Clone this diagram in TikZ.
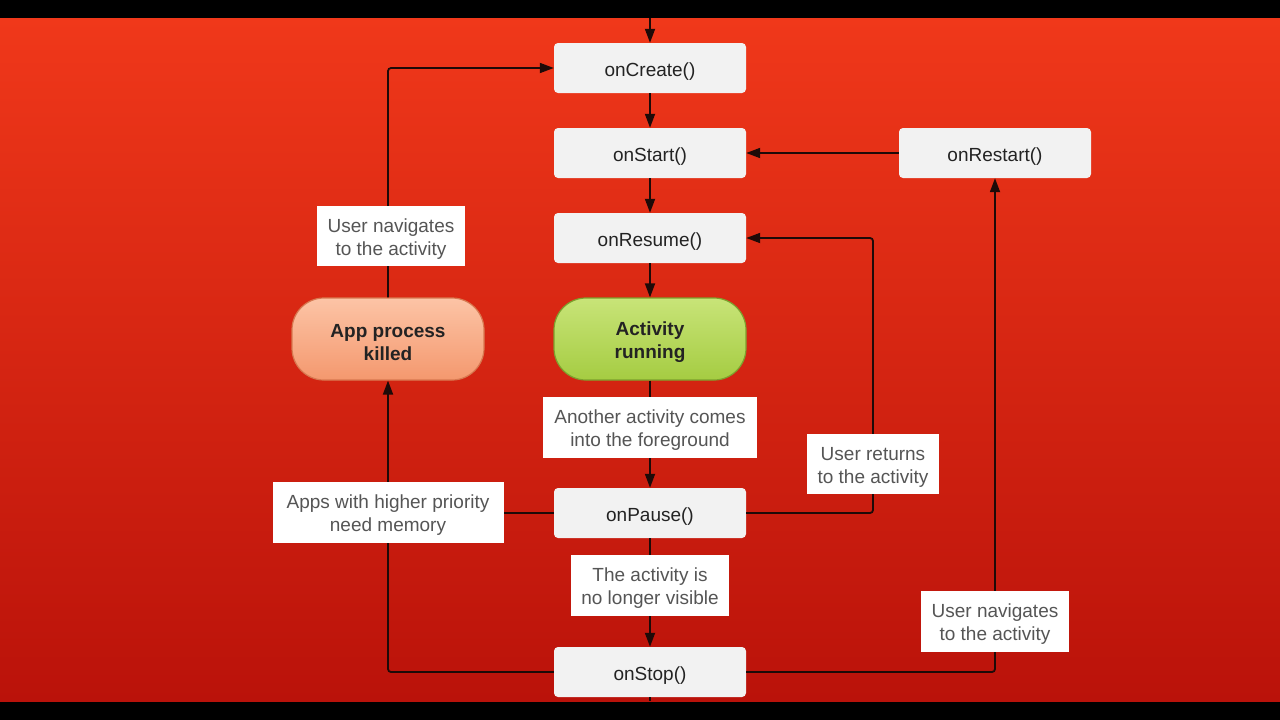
\documentclass[tikz,border=0pt]{standalone}
\usepackage{fontspec}
\setmainfont{Liberation Sans}
\usetikzlibrary{arrows.meta}
\definecolor{bgtop}{RGB}{240,56,26}
\definecolor{bgbot}{RGB}{186,18,10}
\definecolor{boxgray}{RGB}{242,242,242}
\definecolor{textdark}{RGB}{35,35,35}
\definecolor{textgray}{RGB}{85,85,85}
\definecolor{linecol}{RGB}{30,10,8}
\definecolor{grtop}{RGB}{200,228,120}
\definecolor{grbot}{RGB}{165,204,66}
\definecolor{grborder}{RGB}{125,160,45}
\definecolor{pctop}{RGB}{252,196,166}
\definecolor{pcbot}{RGB}{244,152,110}
\definecolor{pcborder}{RGB}{215,120,80}
\newcommand{\topstrut}{\rule{0pt}{20pt}}
\begin{document}
\begin{tikzpicture}[x=1pt,y=-1pt,
  box/.style={fill=boxgray, rounded corners=4pt, minimum width=192pt, minimum height=50pt,
    inner sep=0pt, font=\fontsize{19}{23}\selectfont, text=textdark,
    execute at begin node={\topstrut}},
  pill/.style={rounded corners=32pt, minimum width=192pt, minimum height=82pt, inner sep=0pt,
    align=center, font=\fontsize{19}{23}\selectfont\bfseries, text=textdark, line width=1.2pt},
  lbl/.style={fill=white, minimum height=60pt, inner sep=0pt, align=center,
    font=\fontsize{19}{23}\selectfont, text=textgray},
  conn/.style={draw=linecol, line width=1.8pt, rounded corners=3pt},
  arr/.style={conn, -{Triangle[length=14pt,width=10pt]}}
]
% background
\fill[black] (0,0) rectangle (1280,720);
\shade[top color=bgtop, bottom color=bgbot] (0,18) rectangle (1280,701);
\useasboundingbox (0,0) rectangle (1280,720);

% main nodes
\node[box] (create) at (650,68) {onCreate()};
\node[box] (start) at (650,153) {onStart()};
\node[box] (resume) at (650,238) {onResume()};
\node[pill, draw=grborder, top color=grtop, bottom color=grbot] (run) at (650,339) {\topstrut Activity\\running};
\node[pill, draw=pcborder, top color=pctop, bottom color=pcbot] (killed) at (388,339) {\topstrut App process\\killed};
\node[box] (pause) at (650,513) {onPause()};
\node[box] (stop) at (650,672) {onStop()};
\node[box] (restart) at (995,153) {onRestart()};

\coordinate (topin) at (650,18);
\coordinate (botout) at (650,701);
\coordinate (rr) at (873,238);

% connectors
\draw[arr] (topin) -- (create);
\draw[arr] (create) -- (start);
\draw[arr] (start) -- (resume);
\draw[arr] (resume) -- (run);
\draw[arr] (run) -- (pause);
\draw[arr] (pause) -- (stop);
\draw[conn] (stop) -- (botout);
\draw[arr] (restart) -- (start);
\draw[arr] (pause.east) -| (rr) -- (resume.east);
\draw[arr] (stop.east) -| (restart.south);
\draw[arr] (stop.west) -| (killed.south);
\draw[conn] (pause.west) -- (pause.west -| killed.south);
\draw[arr] (killed.north) |- (create.west);

% labels
\node[lbl, minimum width=148pt] (l1) at (391,236) {\topstrut User navigates\\to the activity};
\node[lbl, minimum width=214pt, minimum height=61pt] (l2) at (650,427) {\topstrut Another activity comes\\into the foreground};
\node[lbl, minimum width=132pt] (l3) at (873,464) {\topstrut User returns\\to the activity};
\node[lbl, minimum width=231pt, minimum height=61pt] (l4) at (388,512) {\topstrut Apps with higher priority\\need memory};
\node[lbl, minimum width=158pt, minimum height=61pt] (l5) at (650,585) {\topstrut The activity is\\no longer visible};
\node[lbl, minimum width=148pt, minimum height=61pt] (l6) at (995,621) {\topstrut User navigates\\to the activity};
\end{tikzpicture}
\end{document}
